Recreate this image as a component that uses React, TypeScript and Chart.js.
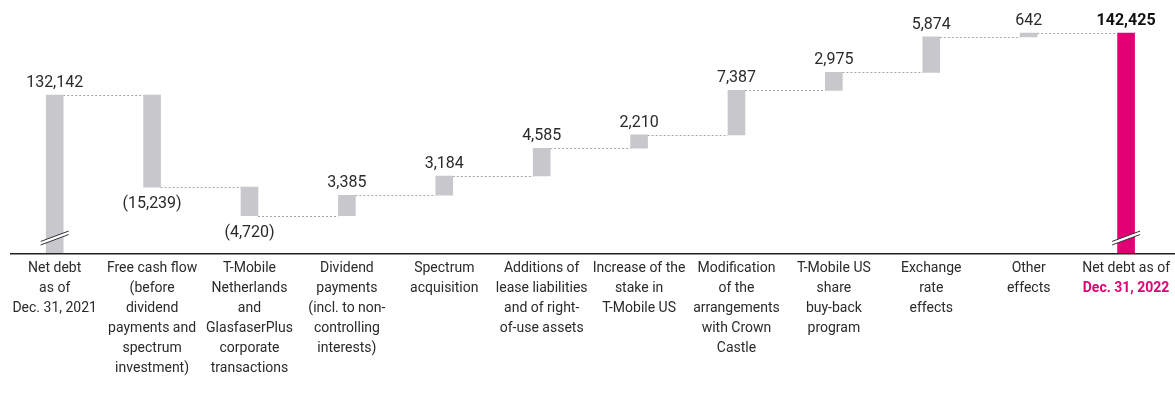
import React, { useEffect, useRef } from "react";
import { Chart, registerables } from "chart.js";

Chart.register(...registerables);

const categories: string[][] = [
  ["Net debt", "as of", "Dec. 31, 2021"],
  ["Free cash flow", "(before", "dividend", "payments and", "spectrum", "investment)"],
  ["T-Mobile", "Netherlands", "and", "GlasfaserPlus", "corporate", "transactions"],
  ["Dividend", "payments", "(incl. to non-", "controlling", "interests)"],
  ["Spectrum", "acquisition"],
  ["Additions of", "lease liabilities", "and of right-", "of-use assets"],
  ["Increase of the", "stake in", "T-Mobile US"],
  ["Modification", "of the", "arrangements", "with Crown", "Castle"],
  ["T-Mobile US", "share", "buy-back", "program"],
  ["Exchange", "rate", "effects"],
  ["Other", "effects"],
  ["Net debt as of", " "],
];
const lastLabelHighlight = "Dec. 31, 2022";

const startValue = 132142;
const changes = [-15239, -4720, 3385, 3184, 4585, 2210, 7387, 2975, 5874, 642];
const endValue = 142425;
const valueLabels = [
  "132,142", "(15,239)", "(4,720)", "3,385", "3,184", "4,585",
  "2,210", "7,387", "2,975", "5,874", "642", "142,425",
];

const axisMin = 106000;
const axisMax = 146560;

const GRAY = "#c8c8cc";
const MAGENTA = "#e20074";
const TEXT = "#2a2a2a";
const FONT = "Roboto, 'Noto Sans', sans-serif";

function buildBars(): [number, number][] {
  const bars: [number, number][] = [[axisMin, startValue]];
  let run = startValue;
  for (const c of changes) {
    const next = run + c;
    bars.push([Math.min(run, next), Math.max(run, next)]);
    run = next;
  }
  bars.push([axisMin, endValue]);
  return bars;
}

export default function App() {
  const ref = useRef<HTMLCanvasElement | null>(null);

  useEffect(() => {
    document.body.style.margin = "0";
    if (!ref.current) return;
    const bars = buildBars();
    const totals: number[] = [startValue];
    let run = startValue;
    for (const c of changes) {
      run += c;
      totals.push(run);
    }
    const signs = [1, ...changes.map((c) => (c < 0 ? -1 : 1)), 1];

    const overlay = {
      id: "overlay",
      afterDatasetsDraw(chart: any) {
        const ctx = chart.ctx as CanvasRenderingContext2D;
        const xs = chart.scales.x;
        const ys = chart.scales.y;
        const area = chart.chartArea;
        const meta = chart.getDatasetMeta(0);
        ctx.save();

        // connectors
        ctx.strokeStyle = "#a8a8a8";
        ctx.lineWidth = 1;
        ctx.setLineDash([2, 2]);
        for (let i = 0; i < totals.length; i++) {
          const a = meta.data[i];
          const b = meta.data[i + 1];
          if (!a || !b) continue;
          const y = Math.round(ys.getPixelForValue(totals[i])) + 0.5;
          ctx.beginPath();
          ctx.moveTo(a.x + a.width / 2, y);
          ctx.lineTo(b.x - b.width / 2, y);
          ctx.stroke();
        }
        ctx.setLineDash([]);

        // break marks
        for (const i of [0, bars.length - 1]) {
          const el = meta.data[i];
          const cx = el.x;
          const cy = area.bottom - 15;
          const dx = 14;
          const dy = 5.2;
          const gap = 3.5;
          ctx.fillStyle = "#ffffff";
          ctx.beginPath();
          ctx.moveTo(cx - dx, cy + dy - gap / 2);
          ctx.lineTo(cx + dx, cy - dy - gap / 2);
          ctx.lineTo(cx + dx, cy - dy + gap / 2);
          ctx.lineTo(cx - dx, cy + dy + gap / 2);
          ctx.closePath();
          ctx.fill();
          ctx.strokeStyle = "#333";
          ctx.lineWidth = 1;
          for (const s of [-1, 1]) {
            ctx.beginPath();
            ctx.moveTo(cx - dx, cy + dy + (s * gap) / 2);
            ctx.lineTo(cx + dx, cy - dy + (s * gap) / 2);
            ctx.stroke();
          }
        }

        // axis line
        ctx.strokeStyle = "#222";
        ctx.lineWidth = 1.5;
        ctx.beginPath();
        ctx.moveTo(area.left + 4, area.bottom + 0.75);
        ctx.lineTo(area.right + 2, area.bottom + 0.75);
        ctx.stroke();

        // value labels
        ctx.textAlign = "center";
        for (let i = 0; i < bars.length; i++) {
          const el = meta.data[i];
          const last = i === bars.length - 1;
          ctx.font = (last ? "bold " : "") + "16px " + FONT;
          ctx.fillStyle = last ? "#111" : TEXT;
          if (signs[i] < 0) {
            ctx.textBaseline = "top";
            ctx.fillText(valueLabels[i], el.x, ys.getPixelForValue(bars[i][0]) + 9);
          } else {
            ctx.textBaseline = "alphabetic";
            ctx.fillText(valueLabels[i], el.x, ys.getPixelForValue(bars[i][1]) - 8);
          }
        }

        // highlighted second line of last category label
        const li = categories.length - 1;
        const lx = xs.getPixelForValue(li);
        const pad = chart.options.scales.x.ticks.padding;
        ctx.font = "bold 14px " + FONT;
        ctx.fillStyle = MAGENTA;
        ctx.textBaseline = "middle";
        ctx.fillText(lastLabelHighlight, lx, area.bottom + pad + 20 * 1.5);
        ctx.restore();
      },
    };

    const chart = new Chart(ref.current, {
      type: "bar",
      data: {
        labels: categories,
        datasets: [
          {
            data: bars as any,
            backgroundColor: bars.map((_, i) => (i === bars.length - 1 ? MAGENTA : GRAY)),
            barThickness: 17,
            borderSkipped: false,
          },
        ],
      },
      options: {
        animation: false,
        responsive: true,
        maintainAspectRatio: false,
        layout: { padding: 0 },
        plugins: { legend: { display: false }, tooltip: { enabled: false } },
        scales: {
          x: {
            grid: { display: false, drawTicks: false },
            border: { display: false },
            ticks: {
              autoSkip: false,
              maxRotation: 0,
              minRotation: 0,
              padding: 5,
              color: TEXT,
              font: { family: FONT, size: 14, lineHeight: 20 / 14 },
            },
            afterFit: (s: any) => {
              s.height = 150;
            },
          },
          y: {
            display: false,
            min: axisMin,
            max: axisMax,
          },
        },
      },
      plugins: [overlay],
    });
    return () => chart.destroy();
  }, []);

  return (
    <div style={{ position: "relative", width: 1169, height: 395, marginLeft: 6, marginTop: 8 }}>
      <canvas ref={ref} />
    </div>
  );
}
